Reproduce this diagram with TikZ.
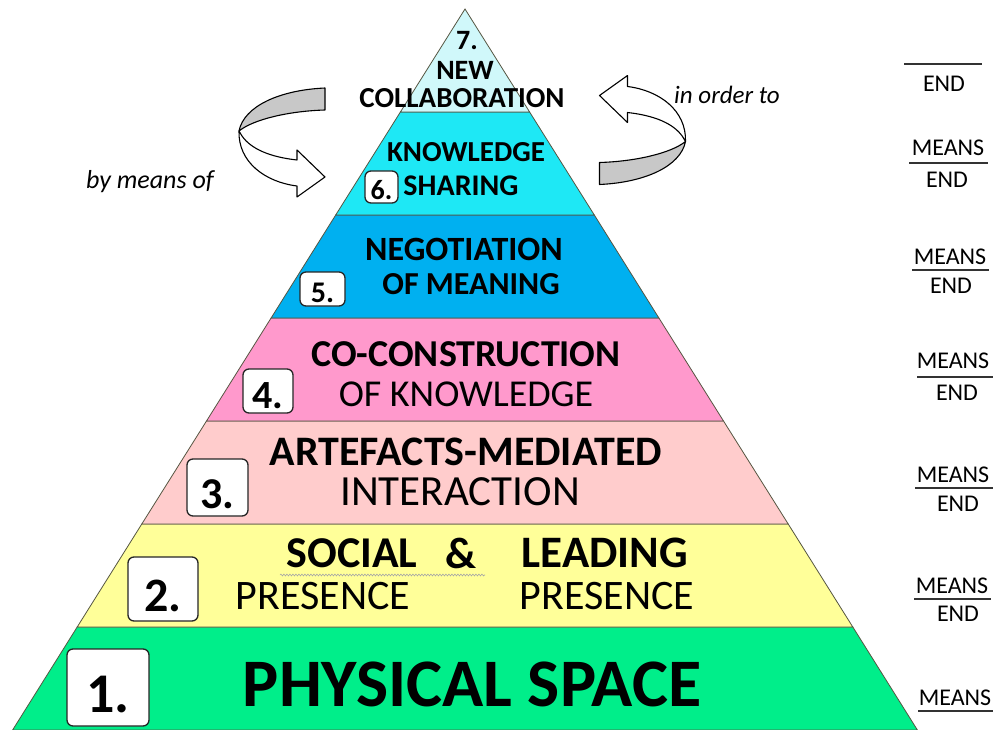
\documentclass[tikz,border=0pt]{standalone}
\usepackage{fontspec}
\setmainfont{Carlito}
\usetikzlibrary{decorations.pathmorphing}
\definecolor{cseven}{RGB}{208,248,250}
\definecolor{csix}{RGB}{30,232,245}
\definecolor{cfive}{RGB}{0,176,240}
\definecolor{cfour}{RGB}{255,153,204}
\definecolor{cthree}{RGB}{255,204,204}
\definecolor{ctwo}{RGB}{255,255,153}
\definecolor{cone}{RGB}{0,238,138}
\definecolor{edgec}{RGB}{85,85,65}
\definecolor{bandgray}{RGB}{200,200,200}
\newcommand{\fsz}[1]{\fontsize{#1}{#1}\selectfont}
\tikzset{
  layer/.style={draw=edgec, line width=0.8pt},
  numbox/.style={draw=black!85, line width=1.3pt, rounded corners=6pt, fill=white, inner sep=0pt},
  txt/.style={inner sep=0pt, text=black},
  ribbon/.style={draw=black, line width=1.1pt, line join=round},
  fracline/.style={draw=black!80, line width=1.3pt},
}
\begin{document}
\begin{tikzpicture}[x=1pt,y=-1pt]
\useasboundingbox (0,0) rectangle (993,730);
% pyramid layers
\path[layer, fill=cone]   (12.6,730) -- (77.2,627) -- (852.8,627) -- (917.4,730) -- cycle;
\path[layer, fill=ctwo]   (77.2,627) -- (141.8,524) -- (788.2,524) -- (852.8,627) -- cycle;
\path[layer, fill=cthree] (141.8,524) -- (206.5,421) -- (723.5,421) -- (788.2,524) -- cycle;
\path[layer, fill=cfour]  (206.5,421) -- (271.1,318) -- (658.9,318) -- (723.5,421) -- cycle;
\path[layer, fill=cfive]  (271.1,318) -- (335.7,215) -- (594.3,215) -- (658.9,318) -- cycle;
\path[layer, fill=csix]   (335.7,215) -- (400.4,112) -- (529.6,112) -- (594.3,215) -- cycle;
\path[layer, fill=cseven] (400.4,112) -- (465,9) -- (529.6,112) -- cycle;

% layer 7
\node[txt, font=\bfseries\fsz{28}] (t7a) at (467,41) {7.};
\node[txt, font=\bfseries\fsz{28}] (t7b) at (465,70) {NEW};
\node[txt, font=\bfseries\fsz{29}] (t7c) at (462,98) {COLLABORATION};
% layer 6
\node[txt, font=\bfseries\fsz{29}] (t6a) at (466,152) {KNOWLEDGE};
\node[txt, font=\bfseries\fsz{30}] (t6b) at (461,186) {SHARING};
\node[numbox, minimum width=33pt, minimum height=32pt] (b6) at (381.5,187) {};
\node[txt, font=\bfseries\fsz{28}] (n6) at (381.5,190) {6.};
% layer 5
\node[txt, font=\bfseries\fsz{34}] (t5a) at (464,249) {NEGOTIATION};
\node[txt, font=\bfseries\fsz{32}] (t5b) at (471,284) {OF MEANING};
\node[numbox, minimum width=45pt, minimum height=34pt] (b5) at (322.5,289) {};
\node[txt, font=\bfseries\fsz{30}] (n5) at (322.5,293) {5.};
% layer 4
\node[txt, font=\bfseries\fsz{38}] (t4a) at (466,354) {CO-CONSTRUCTION};
\node[txt, font=\fsz{38}] (t4b) at (466,394) {OF KNOWLEDGE};
\node[numbox, minimum width=50pt, minimum height=44pt] (b4) at (268,391) {};
\node[txt, font=\bfseries\fsz{40}] (n4) at (268,396) {4.};
% layer 3
\node[txt, font=\bfseries\fsz{42}] (t3a) at (466,452) {ARTEFACTS-MEDIATED};
\node[txt, font=\fsz{43}] (t3b) at (460,492) {INTERACTION};
\node[numbox, minimum width=61pt, minimum height=57pt] (b3) at (217.5,487.5) {};
\node[txt, font=\bfseries\fsz{44}] (n3) at (217.5,494) {3.};
% layer 2
\node[txt, font=\bfseries\fsz{44}] (t2a) at (352,553) {SOCIAL};
\node[txt, font=\bfseries\fsz{44}] (t2amp) at (461,553) {\&};
\node[txt, font=\bfseries\fsz{45}] (t2b) at (605,553) {LEADING};
\node[txt, font=\fsz{42}] (t2c) at (323,596) {PRESENCE};
\node[txt, font=\fsz{42}] (t2d) at (607,596) {PRESENCE};
\coordinate (sq1) at (280,575);
\coordinate (sq2) at (485,575);
\draw[gray!70, line width=0.6pt, decorate, decoration={snake, segment length=3pt, amplitude=0.9pt}] (sq1) -- (sq2);
\node[numbox, minimum width=70pt, minimum height=64pt] (b2) at (163,589) {};
\node[txt, font=\bfseries\fsz{48}] (n2) at (163,596) {2.};
% layer 1
\node[txt, font=\bfseries\fsz{68}] (t1) at (472,684) {PHYSICAL SPACE};
\node[numbox, minimum width=82pt, minimum height=77pt] (b1) at (108,687.5) {};
\node[txt, font=\bfseries\fsz{56}] (n1) at (108,695) {1.};

% twisted arrows
\begin{scope}
  \filldraw[ribbon, fill=bandgray] (325,88) .. controls (280,90) and (244,106) .. (239,131) .. controls (254,119) and (290,111) .. (325,110) -- cycle;
  \filldraw[ribbon, fill=white] (239,131) .. controls (238,162) and (265,182) .. (297,186) -- (297,197) -- (325,177) -- (297,150) -- (297,160) .. controls (270,157) and (251,149) .. (242,136) -- cycle;
\end{scope}
\begin{scope}[shift={(643,130)}, rotate=180, shift={(-281.5,-142.5)}]
  \filldraw[ribbon, fill=bandgray] (325,88) .. controls (280,90) and (244,106) .. (239,131) .. controls (254,119) and (290,111) .. (325,110) -- cycle;
  \filldraw[ribbon, fill=white] (239,131) .. controls (238,162) and (265,182) .. (297,186) -- (297,197) -- (325,177) -- (297,150) -- (297,160) .. controls (270,157) and (251,149) .. (242,136) -- cycle;
\end{scope}
\node[txt, font=\itshape\fsz{26}, anchor=base] (bymeans) at (150,189) {by means of};
\node[txt, font=\itshape\fsz{25}, anchor=base] (inorder) at (727,104) {in order to};

% means / end column
\tikzset{me/.style={txt, font=\fsz{24}}}
\draw[fracline] (904,64) -- (982,64);
\node[me] (e1) at (944,84) {END};
\node[me] (m2) at (948,148) {MEANS};
\draw[fracline] (909,163) -- (988,163);
\node[me] (e2) at (947,180) {END};
\node[me] (m3) at (950,257) {MEANS};
\draw[fracline] (912,270) -- (989,270);
\node[me] (e3) at (951,286) {END};
\node[me] (m4) at (953,361) {MEANS};
\draw[fracline] (917,377) -- (993,377);
\node[me] (e4) at (957,393) {END};
\node[me] (m5) at (953,475) {MEANS};
\draw[fracline] (915,488) -- (993,488);
\node[me] (e5) at (958,504) {END};
\node[me] (m6) at (952,586) {MEANS};
\draw[fracline] (914,599) -- (991,599);
\node[me] (e6) at (958,614) {END};
\node[me] (m7) at (955,698) {MEANS};
\draw[fracline] (918,711) -- (993,711);
\end{tikzpicture}
\end{document}
